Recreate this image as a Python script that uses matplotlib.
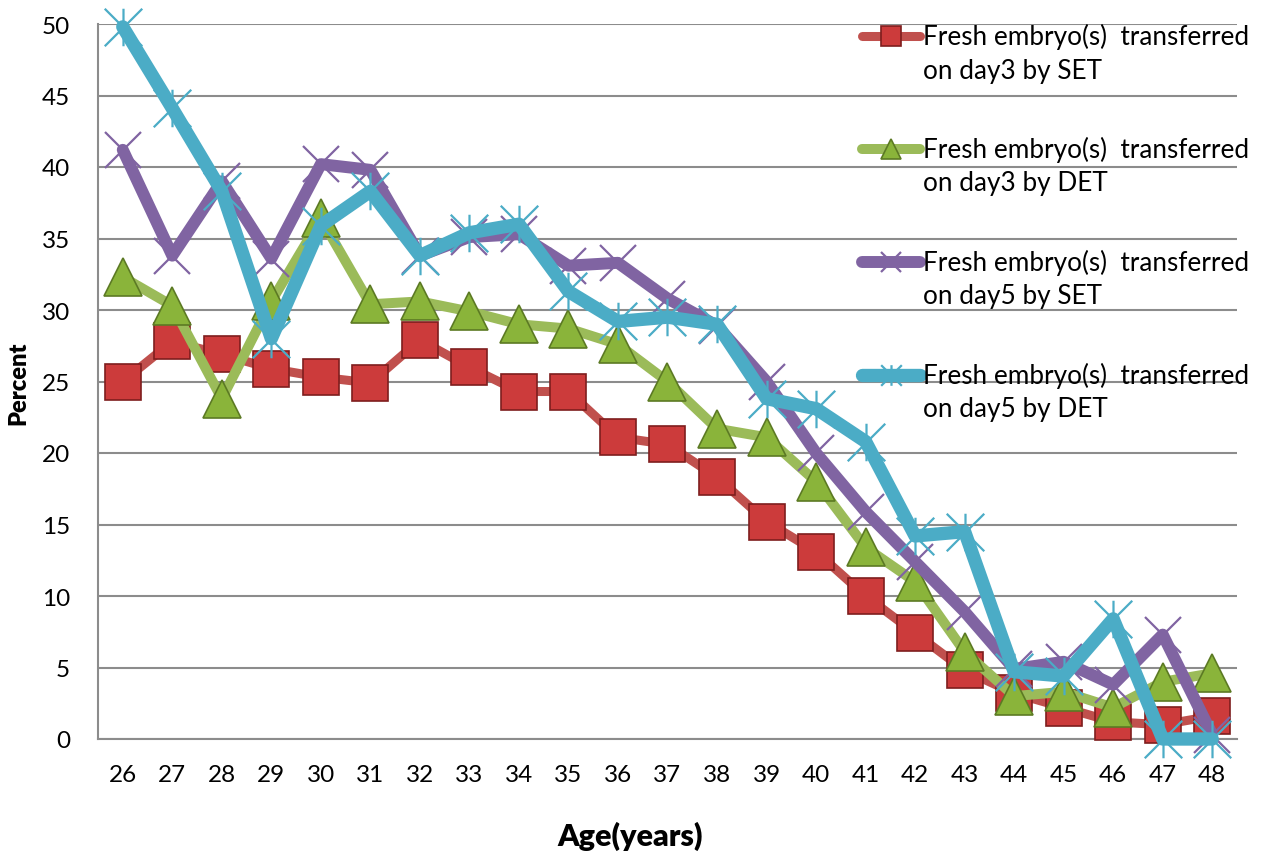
import matplotlib
matplotlib.use("Agg")
import matplotlib.pyplot as plt
from matplotlib.path import Path
from matplotlib.lines import Line2D

# Age categories and success percentages per transfer strategy
ages = list(range(26, 49))
day3_set = [25.0, 27.8, 26.9, 25.9, 25.3, 24.9, 27.9, 26.0, 24.3, 24.3, 21.1, 20.6,
            18.3, 15.2, 13.1, 10.0, 7.4, 4.8, 3.2, 2.2, 1.2, 1.0, 1.6]
day3_det = [32.3, 30.3, 23.8, 30.6, 36.4, 30.4, 30.6, 29.9, 29.0, 28.7, 27.6, 25.0,
            21.7, 21.1, 18.0, 13.4, 11.0, 6.1, 3.0, 3.3, 2.2, 4.0, 4.6]
day5_set = [41.2, 33.8, 39.0, 33.6, 40.2, 39.8, 33.8, 35.1, 35.3, 33.1, 33.3, 30.8,
            28.9, 25.0, 20.0, 15.9, 12.4, 8.9, 4.9, 5.4, 3.8, 7.3, 0.3]
day5_det = [49.8, 44.1, 38.3, 28.0, 35.9, 38.3, 33.8, 35.4, 36.0, 31.3, 29.2, 29.5,
            29.0, 23.8, 23.1, 20.8, 14.2, 14.5, 4.7, 4.4, 8.4, 0.0, 0.0]

labels = [
    ("Fresh embryo(s)  transferred", "on day3 by SET"),
    ("Fresh embryo(s)  transferred", "on day3 by DET"),
    ("Fresh embryo(s)  transferred", "on day5 by SET"),
    ("Fresh embryo(s)  transferred", "on day5 by DET"),
]

plt.rcParams['font.family'] = ['Lato', 'DejaVu Sans']

W, H = 1266, 853
fig = plt.figure(figsize=(W / 100, H / 100), dpi=100)
ax = fig.add_axes([98 / W, 113 / H, (1237 - 98) / W, (740 - 25) / H])

# Excel-style star: an X with a vertical bar through it
star = Path([(-1, -1), (1, 1), (-1, 1), (1, -1), (0, -1), (0, 1)],
            [Path.MOVETO, Path.LINETO, Path.MOVETO, Path.LINETO, Path.MOVETO, Path.LINETO])

styles = [
    dict(color='#C0504D', lw=6.5, marker='s', ms=26, mfc='#CC3B3B', mec='#7E1E1E', mew=1.2),
    dict(color='#9BBB59', lw=7.2, marker='^', ms=27, mfc='#8AB43A', mec='#5C7A24', mew=1.2),
    dict(color='#8064A2', lw=8.6, marker='x', ms=26, mfc='#8064A2', mec='#8064A2', mew=1.6),
    dict(color='#4BACC6', lw=9.6, marker=star, ms=27, mfc='#4BACC6', mec='#4BACC6', mew=1.6),
]
series = [day3_set, day3_det, day5_set, day5_det]

x = list(range(len(ages)))
for i, (vals, st) in enumerate(zip(series, styles)):
    ax.plot(x, vals, color=st['color'], lw=st['lw'], solid_joinstyle='round',
            solid_capstyle='round', marker=st['marker'], ms=st['ms'],
            mfc=st['mfc'], mec=st['mec'], mew=st['mew'], zorder=3 + i, clip_on=False)

ax.set_xlim(-0.5, len(ages) - 0.5)
ax.set_ylim(0, 50)
ax.set_yticks(range(0, 51, 5))
ax.set_xticks(x)
ax.set_xticklabels([str(a) for a in ages])
ax.tick_params(axis='both', length=0, labelsize=17.5, colors='black')
ax.tick_params(axis='y', pad=20)
ax.tick_params(axis='x', pad=18)
ax.yaxis.grid(True, color='#8C8C8C', lw=1.5)
ax.set_axisbelow(True)
for side in ['top', 'right']:
    ax.spines[side].set_visible(False)
for side in ['left', 'bottom']:
    ax.spines[side].set_color('#8C8C8C')
    ax.spines[side].set_linewidth(1.5)

fig.text(18 / W, 1 - 383 / H, "Percent", rotation=90, ha='center', va='center',
         fontsize=17, fontweight='heavy')
fig.text(630 / W, 1 - 836 / H, "Age(years)", ha='center', va='center',
         fontsize=22, fontweight='heavy')

# Legend drawn at the right inside the plot area
for i, ((line1, line2), st) in enumerate(zip(labels, styles)):
    yc = 1 - (37 + 113 * i) / H
    fig.add_artist(Line2D([862 / W, 920 / W], [yc, yc], transform=fig.transFigure,
                          color=st['color'], lw=st['lw'], solid_capstyle='round', zorder=10))
    fig.add_artist(Line2D([891 / W], [yc], transform=fig.transFigure, marker=st['marker'],
                          ms=st['ms'] * 0.55, mfc=st['mfc'], mec=st['mec'], mew=st['mew'],
                          lw=0, zorder=11))
    fig.text(923 / W, yc, line1, ha='left', va='center', fontsize=18.8, zorder=12)
    fig.text(923 / W, yc - 34 / H, line2, ha='left', va='center', fontsize=18.8, zorder=12)

fig.savefig("out.png", dpi=100)
